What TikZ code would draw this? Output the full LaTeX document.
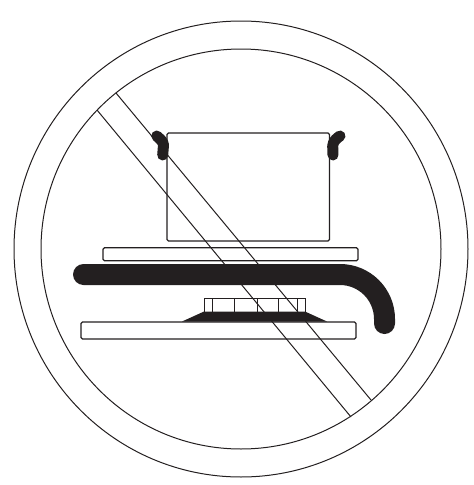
\documentclass[tikz,border=0pt]{standalone}
\definecolor{ink}{HTML}{231F20}
\tikzset{
  thinline/.style={draw=ink,line width=1pt},
  boxline/.style={draw=ink,line width=1.2pt,rounded corners=1.5pt},
  heavy/.style={draw=ink,line width=21pt,line cap=round},
  lug/.style={draw=ink,line width=11pt,line cap=round,line join=round}
}
\begin{document}
\begin{tikzpicture}[x=1pt,y=-1pt]
\useasboundingbox (0,0) rectangle (474,485);
\draw[thinline] (241,249) ellipse [x radius=227,y radius=228];
\draw[thinline] (241,249) ellipse [x radius=200,y radius=200];
\coordinate (s1a) at (97,110);
\coordinate (s1b) at (351,417);
\coordinate (s2a) at (116,93);
\coordinate (s2b) at (371,400);
\draw[thinline] (s1a) -- (s1b);
\draw[thinline] (s2a) -- (s2b);
\draw[boxline] (167,133) rectangle (329.5,241);
\draw[boxline] (103,247.7) rectangle (358,260.7);
\draw[boxline] (81,322) rectangle (356,339);
\draw[thinline] (204,298) rectangle (305,312);
\foreach \x in {212,234,257,278,297}{\draw[thinline] (\x,298) -- (\x,312);}
\fill[ink] (182,321.5) -- (204,311.5) -- (305,311.5) -- (327,321.5) -- cycle;
\draw[heavy] (83.5,274.5) -- (340,274.5) arc[start angle=-90,end angle=0,radius=44.5] -- (384.5,323.5);
\draw[lug] (156.7,136) .. controls (160,139) and (163,141) .. (163.5,145) -- (162.7,155);
\draw[lug] (340,136) .. controls (337,138) and (333,141) .. (332.7,146) -- (333,155);
\end{tikzpicture}
\end{document}
